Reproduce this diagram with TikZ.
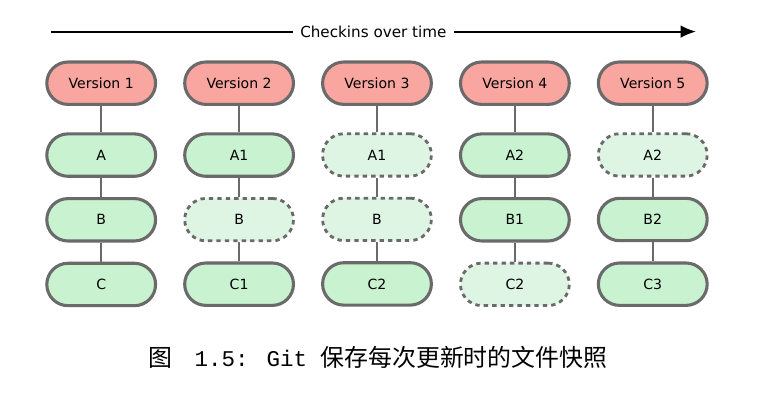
\documentclass[tikz,border=0pt]{standalone}
\usepackage{fontspec}
\setmainfont{DejaVu Sans}
\newfontfamily\cjk{Noto Sans CJK SC}
\newfontfamily\mono{Liberation Mono}
\usetikzlibrary{arrows.meta,positioning}

\definecolor{versionred}{HTML}{FAA6A0}
\definecolor{filegreen}{HTML}{C8F2D0}
\definecolor{filepale}{HTML}{DEF5E3}
\definecolor{edgegray}{HTML}{6A6A6A}

\tikzset{
  box/.style={draw=edgegray, line width=2.2pt, rounded corners=0.53cm,
    minimum width=2.72cm, minimum height=1.06cm, text=black,
    font=\fontsize{10}{12}\selectfont},
  version/.style={box, fill=versionred},
  file/.style={box, fill=filegreen},
  same/.style={box, fill=filepale, line width=2pt, dash pattern=on 3.1pt off 2.9pt},
  link/.style={draw=edgegray, line width=1.5pt}
}

\begin{document}
\begin{tikzpicture}[node distance=0.48cm and 0.65cm]
\useasboundingbox (0,0) rectangle (19.1,-10);

% time line
\coordinate (start) at (1.27,-0.79);
\coordinate (end) at (17.4,-0.79);
\draw[line width=1.3pt, -{Latex[length=11pt,width=9pt]}] (start) -- node[fill=white, inner xsep=5pt, font=\fontsize{10.8}{13}\selectfont] (time) {Checkins over time} (end);

% versions
\node[version] (v1) at (2.53,-2.08) {Version 1};
\node[version, right=of v1] (v2) {Version 2};
\node[version, right=of v2] (v3) {Version 3};
\node[version, right=of v3] (v4) {Version 4};
\node[version, right=of v4] (v5) {Version 5};

% files
\node[file, below=0.66cm of v1] (a1) {A};
\node[file, below=of a1] (b1) {B};
\node[file, below=of b1] (c1) {C};

\node[file, below=0.66cm of v2] (a2) {A1};
\node[same, below=of a2] (b2) {B};
\node[file, below=of b2] (c2) {C1};

\node[same, below=0.66cm of v3] (a3) {A1};
\node[same, below=of a3] (b3) {B};
\node[file, below=of b3] (c3) {C2};

\node[file, below=0.66cm of v4] (a4) {A2};
\node[file, below=of a4] (b4) {B1};
\node[same, below=of b4] (c4) {C2};

\node[same, below=0.66cm of v5] (a5) {A2};
\node[file, below=of a5] (b5) {B2};
\node[file, below=of b5] (c5) {C3};

\draw[link] (v1) -- (a1) (a1) -- (b1) (b1) -- (c1);
\draw[link] (v2) -- (a2) (a2) -- (b2) (b2) -- (c2);
\draw[link] (v3) -- (a3) (a3) -- (b3) (b3) -- (c3);
\draw[link] (v4) -- (a4) (a4) -- (b4) (b4) -- (c4);
\draw[link] (v5) -- (a5) (a5) -- (b5) (b5) -- (c5);

% caption
\node[font=\fontsize{17}{20}\selectfont] (caption) at (9.45,-8.93)
  {{\cjk 图}\hspace{0.55cm}{\mono\fontsize{16}{20}\selectfont 1.5: Git }{\cjk 保存每次更新时的文件快照}};
\end{tikzpicture}
\end{document}
